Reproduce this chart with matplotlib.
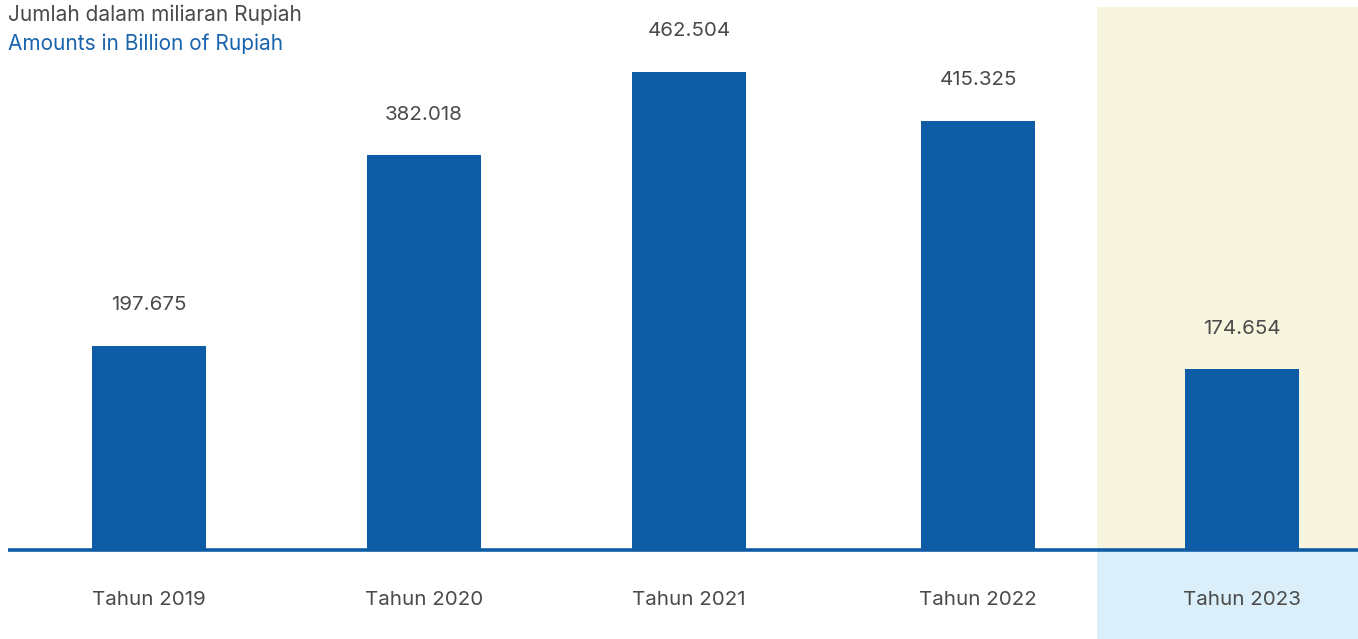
import matplotlib
matplotlib.use("Agg")
import matplotlib.pyplot as plt

# Data
years = ["Tahun 2019", "Tahun 2020", "Tahun 2021", "Tahun 2022", "Tahun 2023"]
values = [197.675, 382.018, 462.504, 415.325, 174.654]
value_labels = ["197.675", "382.018", "462.504", "415.325", "174.654"]

# Layout (pixel units across the canvas width)
W, H, DPI = 1358, 639, 100
bar_centers = [149, 424, 689, 978, 1242]
bar_width = 114
zero_px_from_top = 550
px_per_unit = 1.034

BAR = "#0f5ca6"
TEXT = "#4a4a4a"
BLUE_TEXT = "#1a64ad"
HL_YELLOW = "#f7f5dd"
HL_BLUE = "#daeffa"

plt.rcParams["font.family"] = ["Inter", "DejaVu Sans"]

fig = plt.figure(figsize=(W / DPI, H / DPI), dpi=DPI)
ax = fig.add_axes([0, 0, 1, 1])
ymin = -(H - zero_px_from_top) / px_per_unit
ymax = ymin + H / px_per_unit
ax.set_xlim(0, W)
ax.set_ylim(ymin, ymax)
ax.axis("off")

# Highlighted latest year
hl_left = 1097
hl_top = (zero_px_from_top - 7) / px_per_unit
ax.fill_between([hl_left, W], 0, hl_top, color=HL_YELLOW, lw=0, zorder=0)
ax.fill_between([hl_left, W], ymin, 0, color=HL_BLUE, lw=0, zorder=0)

# Bars
ax.bar(bar_centers, values, width=bar_width, color=BAR, zorder=2)

# Baseline
ax.plot([8, W], [0, 0], color=BAR, lw=2.6, solid_capstyle="butt", zorder=3)

# Value labels above bars
for x, v, lab in zip(bar_centers, values, value_labels):
    ax.annotate(lab, (x, v), xytext=(0, 29), textcoords="offset points",
                ha="center", va="center", fontsize=14.8, color=TEXT, zorder=4)

# Category labels below the baseline
for x, name in zip(bar_centers, years):
    ax.text(x, -(600 - zero_px_from_top) / px_per_unit, name, ha="center",
            va="center", fontsize=14.8, color=TEXT, zorder=4)

# Unit captions
fig.text(8 / W, 1 - 15 / H, "Jumlah dalam miliaran Rupiah", ha="left",
         va="center", fontsize=15, color=TEXT)
fig.text(8 / W, 1 - 44 / H, "Amounts in Billion of Rupiah", ha="left",
         va="center", fontsize=15, color=BLUE_TEXT)

fig.savefig("out.png", dpi=DPI)
